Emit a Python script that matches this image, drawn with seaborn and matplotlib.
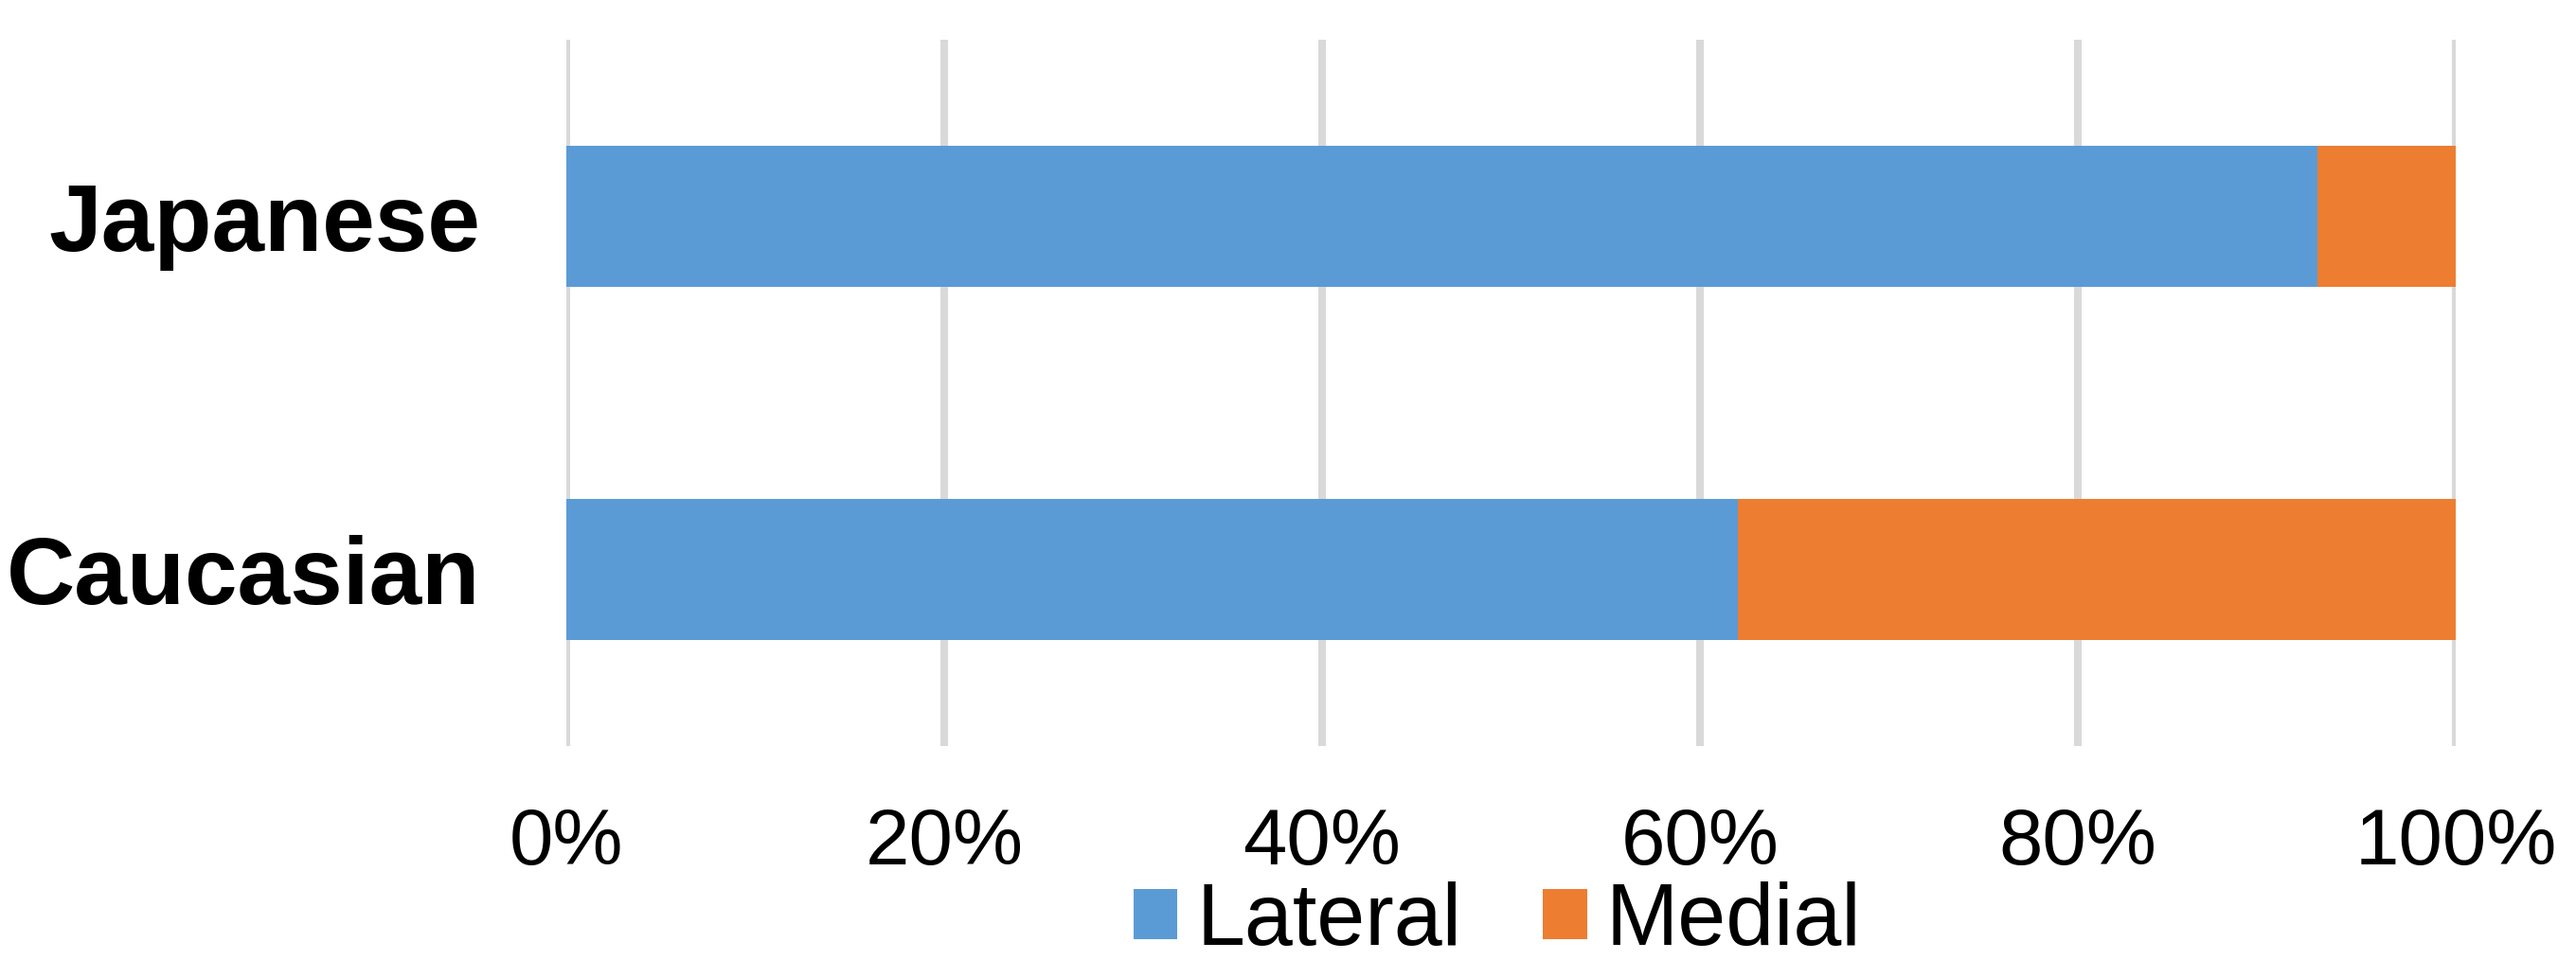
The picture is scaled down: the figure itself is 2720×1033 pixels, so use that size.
import matplotlib
matplotlib.use("Agg")
import matplotlib.pyplot as plt
import seaborn as sns
import pandas as pd

# data (percent)
groups = ["Japanese", "Caucasian"]
lateral = [92.7, 62.0]
medial = [7.3, 38.0]
xticks = [0, 20, 40, 60, 80, 100]
xtick_labels = ["0%", "20%", "40%", "60%", "80%", "100%"]

blue = "#5B9BD5"
orange = "#ED7D31"

sns.set_theme(style="white")
plt.rcParams["font.family"] = ["Liberation Sans", "DejaVu Sans"]
plt.rcParams["text.color"] = "black"
plt.rcParams["xtick.color"] = "black"
plt.rcParams["ytick.color"] = "black"

df = pd.DataFrame({"group": groups, "lateral": lateral, "medial": medial})
df["total"] = df["lateral"] + df["medial"]

fig = plt.figure(figsize=(27.2, 10.33), dpi=100)
ax = fig.add_axes([598 / 2720, 1 - 788 / 1033, 1995 / 2720, 746 / 1033])

# stacked bars: draw the total in orange, then lateral over it in blue
sns.barplot(data=df, x="total", y="group", color=orange, width=0.4,
            saturation=1, linewidth=0, ax=ax, label="Medial", zorder=2)
sns.barplot(data=df, x="lateral", y="group", color=blue, width=0.4,
            saturation=1, linewidth=0, ax=ax, label="Lateral", zorder=3)

ax.set_xlim(0, 100)
ax.set_ylim(1.5, -0.5)
ax.set_xticks(xticks)
ax.set_xticklabels(xtick_labels, fontsize=60, color="black")
ax.set_yticklabels(groups, fontsize=72, fontweight="bold", color="black")
ax.set_xlabel("")
ax.set_ylabel("")
ax.tick_params(axis="x", length=0, pad=46)
ax.tick_params(axis="y", length=0, pad=65)
ax.grid(axis="x", color="#D9D9D9", linewidth=5.8, zorder=0)
ax.set_axisbelow(True)
for s in ax.spines.values():
    s.set_visible(False)

handles, labels = ax.get_legend_handles_labels()
order = [labels.index("Lateral"), labels.index("Medial")]
fig.legend([handles[i] for i in order], [labels[i] for i in order],
           loc="center", bbox_to_anchor=(1581 / 2720, 1 - 974 / 1033),
           ncol=2, frameon=False, fontsize=66, handlelength=0.51,
           handleheight=0.52, handletextpad=0.22, columnspacing=0.93,
           borderpad=0, borderaxespad=0)
ax.legend_ = None

fig.savefig("out.png", dpi=100, facecolor="white")
